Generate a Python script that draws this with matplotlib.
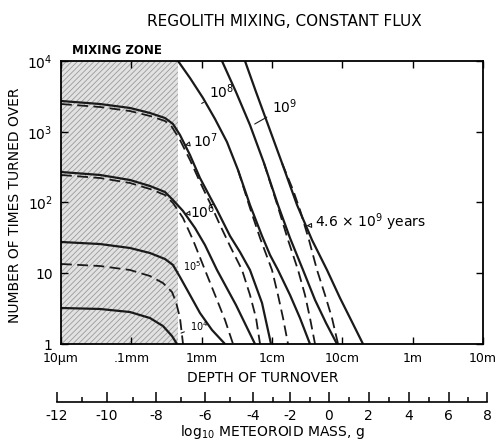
import matplotlib
matplotlib.use('Agg')
import matplotlib.pyplot as plt

# x = log10(depth of turnover, m), y = log10(number of times turned over)
# values
t4_solid_x = [-5.00, -4.445, -4.019, -3.735, -3.550, -3.422, -3.351]
t4_solid_y = [0.509, 0.495, 0.452, 0.367, 0.254, 0.113, 0.0]

t5_solid_x = [-5.00, -4.445, -4.019, -3.735, -3.521, -3.408, -3.308, -3.166, -3.024, -2.853, -2.668]
t5_solid_y = [1.442, 1.413, 1.357, 1.286, 1.201, 1.117, 0.947, 0.693, 0.438, 0.198, 0.0]
t5_dash_x = [-5.00, -4.445, -4.019, -3.735, -3.550, -3.422, -3.365, -3.308, -3.265]
t5_dash_y = [1.131, 1.102, 1.046, 0.961, 0.862, 0.735, 0.594, 0.367, 0.0]

t6_solid_x = [-5.00, -4.445, -4.019, -3.735, -3.521, -3.408, -3.265, -3.095, -2.953, -2.782, -2.512, -2.242]
t6_solid_y = [2.431, 2.389, 2.318, 2.233, 2.148, 2.035, 1.880, 1.640, 1.399, 1.046, 0.551, 0.0]
t6_dash_x = [-5.00, -4.445, -4.019, -3.735, -3.521, -3.408, -3.265, -3.123, -2.953, -2.810, -2.668, -2.554]
t6_dash_y = [2.389, 2.346, 2.276, 2.191, 2.106, 1.993, 1.781, 1.470, 1.046, 0.693, 0.339, 0.0]

t7_solid_x = [-5.00, -4.445, -4.019, -3.735, -3.521, -3.408, -3.308, -3.166, -3.024, -2.881, -2.782,
              -2.597, -2.455, -2.313, -2.142, -2.014]
t7_solid_y = [3.435, 3.392, 3.336, 3.265, 3.194, 3.110, 2.954, 2.671, 2.346, 2.078, 1.894,
              1.527, 1.300, 1.046, 0.580, 0.0]
t7_dash_x = [-5.00, -4.445, -4.019, -3.735, -3.521, -3.422, -3.308, -3.166, -3.024, -2.881, -2.739,
             -2.597, -2.426, -2.313, -2.227, -2.170]
t7_dash_y = [3.392, 3.350, 3.293, 3.223, 3.152, 3.067, 2.883, 2.601, 2.290, 1.993, 1.682,
             1.385, 1.046, 0.693, 0.367, 0.0]

t8_solid_x = [-3.336, -3.166, -2.981, -2.810, -2.640, -2.483, -2.313, -2.142, -2.028, -1.915, -1.744, -1.602, -1.460]
t8_solid_y = [4.000, 3.760, 3.477, 3.180, 2.855, 2.459, 1.965, 1.527, 1.258, 1.046, 0.693, 0.367, 0.0]
t8_dash_x = [-2.483, -2.313, -2.170, -2.000, -1.915, -1.843, -1.772]
t8_dash_y = [2.459, 1.922, 1.498, 1.046, 0.693, 0.367, 0.0]

t9_solid_x = [-2.711, -2.512, -2.313, -2.114, -1.915, -1.744, -1.559, -1.388, -1.232, -1.076]
t9_solid_y = [4.000, 3.562, 3.095, 2.558, 1.965, 1.498, 1.046, 0.622, 0.297, 0.0]
t9_dash_x = [-2.114, -1.915, -1.772, -1.630, -1.531, -1.460, -1.388]
t9_dash_y = [2.558, 1.936, 1.470, 1.046, 0.693, 0.367, 0.0]

t46_solid_x = [-2.384, -2.227, -2.071, -1.858, -1.644, -1.431, -1.218, -1.033, -0.862, -0.706]
t46_solid_y = [4.000, 3.562, 3.138, 2.558, 1.965, 1.470, 1.046, 0.650, 0.311, 0.0]
t46_dash_x = [-1.858, -1.701, -1.602, -1.474, -1.360, -1.246, -1.147, -1.061]
t46_dash_y = [2.558, 2.177, 1.894, 1.470, 1.046, 0.693, 0.367, 0.0]

mixing_zone_edge = -3.336

depth_ticks = [-5, -4, -3, -2, -1, 0, 1]
depth_labels = ['10\u03bcm', '.1mm', '1mm', '1cm', '10cm', '1m', '10m']
count_ticks = [0, 1, 2, 3, 4]
count_labels = ['1', '10', '$\\mathregular{10^2}$', '$\\mathregular{10^3}$', '$\\mathregular{10^4}$']

# log10 meteoroid mass and where each tick sits on the depth scale
mass_ticks = [-12, -10, -8, -6, -4, -2, 0, 2, 4, 6, 8]
mass_tick_pos = [-5.057, -4.346, -3.644, -2.954, -2.267, -1.740, -1.196, -0.627, -0.058, 0.511, 1.057]
mass_minor_pos = [-4.70, -3.98, -3.29, -2.60, -1.99, -1.46, -0.91, -0.34, 0.23, 0.79]

plt.rcParams['font.family'] = ['DejaVu Sans']
plt.rcParams['hatch.linewidth'] = 0.6
fig = plt.figure(figsize=(4.97, 4.4), dpi=100)
W, H = 497.0, 440.0

ax = fig.add_axes([61 / W, 1 - 344 / H, 422 / W, 283 / H])
ax.set_xlim(-5, 1)
ax.set_ylim(0, 4)

ax.axvspan(-5, mixing_zone_edge, facecolor='#e2e2e2', edgecolor='#9a9a9a', hatch='//////', lw=0, zorder=0)

solid = dict(color='#1a1a1a', lw=1.6, solid_capstyle='butt')
dash = dict(color='#1a1a1a', lw=1.3, dashes=(6, 3))
for xs, ys in [(t4_solid_x, t4_solid_y), (t5_solid_x, t5_solid_y), (t6_solid_x, t6_solid_y),
               (t7_solid_x, t7_solid_y), (t8_solid_x, t8_solid_y), (t9_solid_x, t9_solid_y),
               (t46_solid_x, t46_solid_y)]:
    ax.plot(xs, ys, **solid)
for xs, ys in [(t5_dash_x, t5_dash_y), (t6_dash_x, t6_dash_y), (t7_dash_x, t7_dash_y),
               (t8_dash_x, t8_dash_y), (t9_dash_x, t9_dash_y), (t46_dash_x, t46_dash_y)]:
    ax.plot(xs, ys, **dash)

ax.set_xticks(depth_ticks)
ax.set_xticklabels(depth_labels, fontsize=9)
ax.set_yticks(count_ticks)
ax.set_yticklabels(count_labels, fontsize=10)
ax.tick_params(direction='in', length=5, width=1, top=True, right=True, pad=6)
for sp in ax.spines.values():
    sp.set_linewidth(1.3)

# curve labels
line_lbl = dict(arrowstyle='-', lw=0.8, color='#1a1a1a')
tri_lbl = dict(arrowstyle='-|>', lw=0.8, color='#1a1a1a', fc='white', mutation_scale=7)
ax.annotate('$\\mathregular{10^8}$', xy=(-3.00, 3.40), xytext=(-2.90, 3.56), fontsize=10,
            va='center', arrowprops=line_lbl)
ax.annotate('$\\mathregular{10^9}$', xy=(-2.28, 3.09), xytext=(-2.00, 3.35), fontsize=10,
            va='center', arrowprops=line_lbl)
ax.annotate('$\\mathregular{10^7}$', xy=(-3.24, 2.81), xytext=(-3.13, 2.88), fontsize=10,
            va='center', arrowprops=tri_lbl)
ax.annotate('$\\mathregular{10^6}$', xy=(-3.24, 1.84), xytext=(-3.16, 1.87), fontsize=10,
            va='center', arrowprops=tri_lbl)
ax.annotate('$\\mathregular{10^5}$', xy=(-3.35, 1.02), xytext=(-3.26, 1.10), fontsize=7,
            va='center', arrowprops=line_lbl)
ax.annotate('$\\mathregular{10^4}$', xy=(-3.33, 0.14), xytext=(-3.17, 0.25), fontsize=7,
            va='center', arrowprops=line_lbl)
ax.annotate('4.6 \u00d7 $\\mathregular{10^9}$ years', xy=(-1.55, 1.67), xytext=(-1.39, 1.72),
            fontsize=10, va='center', arrowprops=tri_lbl)

ax.text(-4.84, 4.155, 'MIXING ZONE', fontsize=8.5, fontweight='bold', va='center', clip_on=False)

# meteoroid mass scale under the depth axis
ax2 = fig.add_axes([57 / W, 1 - 402 / H, 430 / W, 20 / H])
ax2.set_xlim(-5.057, 1.057)
ax2.set_ylim(0, 1)
for side in ['top', 'left', 'right']:
    ax2.spines[side].set_visible(False)
ax2.spines['bottom'].set_linewidth(1.2)
ax2.set_yticks([])
ax2.set_xticks(mass_tick_pos)
ax2.set_xticklabels([str(m) for m in mass_ticks], fontsize=10)
ax2.set_xticks(mass_minor_pos, minor=True)
ax2.tick_params(which='major', direction='in', length=7, width=1.1, pad=5)
ax2.tick_params(which='minor', direction='in', length=3.5, width=1.1)
ax2.patch.set_alpha(0)

fig.text(284 / W, 1 - 22 / H, 'REGOLITH MIXING, CONSTANT FLUX', fontsize=11, ha='center', va='center')
fig.text(263 / W, 1 - 378 / H, 'DEPTH OF TURNOVER', fontsize=10, ha='center', va='center')
fig.text(272 / W, 1 - 432 / H, 'log$_{\\mathregular{10}}$ METEOROID MASS, g', fontsize=10, ha='center', va='center')
fig.text(15 / W, 1 - 205 / H, 'NUMBER OF TIMES TURNED OVER', fontsize=10, rotation=90, ha='center', va='center')

fig.savefig('out.png', dpi=100)
